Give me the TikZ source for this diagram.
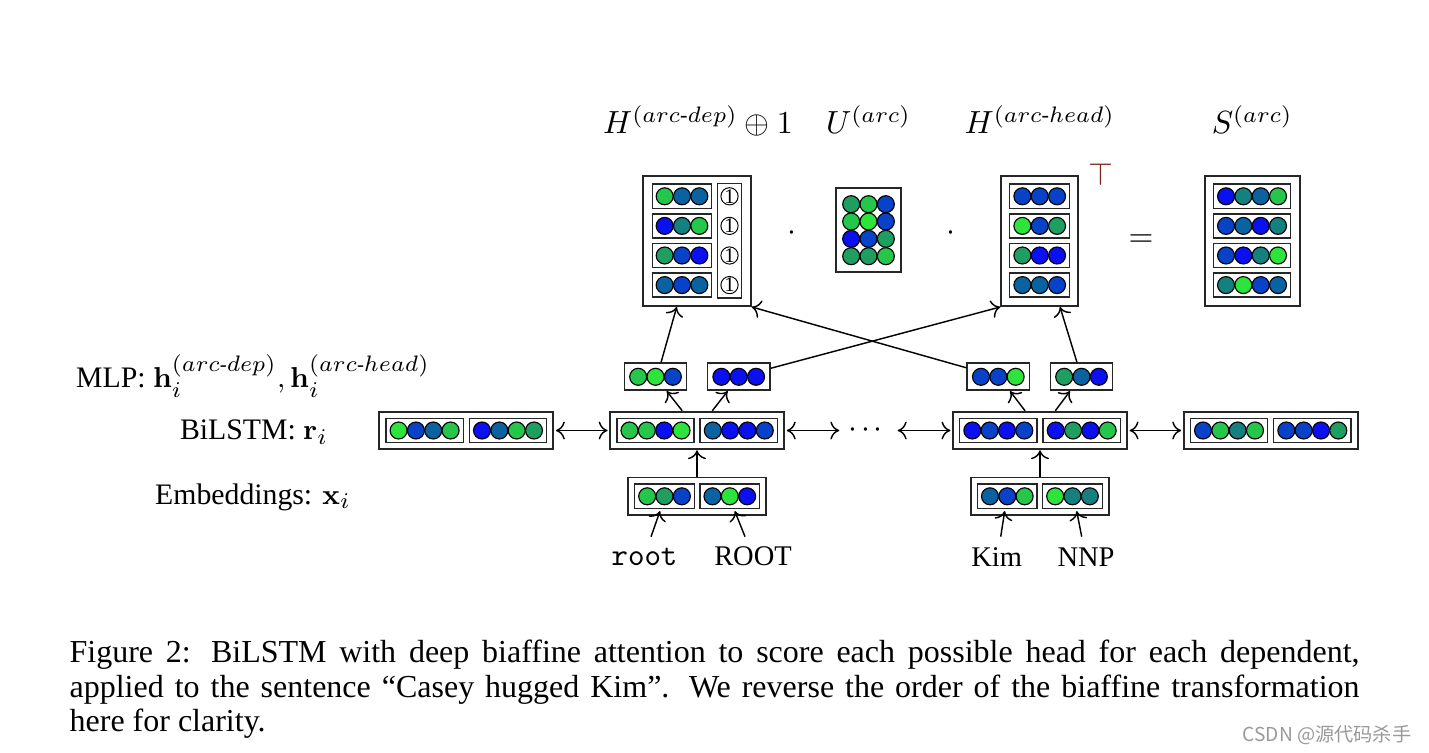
\documentclass[tikz,border=0pt]{standalone}
\usepackage{amsmath}
\usepackage[no-math]{fontspec}
\setmainfont{Liberation Serif}
\newfontfamily\cjkfont{Noto Sans CJK SC}
\usetikzlibrary{arrows.meta}
\definecolor{cL}{RGB}{45,228,58}
\definecolor{cG}{RGB}{38,198,74}
\definecolor{cS}{RGB}{30,158,96}
\definecolor{cT}{RGB}{20,128,128}
\definecolor{cP}{RGB}{10,98,160}
\definecolor{cD}{RGB}{8,66,200}
\definecolor{cB}{RGB}{10,16,240}
\definecolor{topred}{RGB}{125,40,25}
\def\U{0.3125pt}
\tikzset{
  outbox/.style={draw=black!85, line width=0.6pt, inner sep=0pt, minimum height=37.6*\U},
  inbox/.style={draw=black!85, line width=0.45pt, inner sep=0pt, minimum height=24.2*\U},
  mlpbox/.style={draw=black!85, line width=0.5pt, inner sep=0pt, minimum height=27*\U},
  circ/.style={draw=black, line width=0.35pt},
  arr/.style={draw=black, line width=0.45pt, -{To[length=2.8pt,width=5.6pt]}},
  darr/.style={draw=black, line width=0.45pt, {To[length=2.8pt,width=5.6pt]}-{To[length=2.8pt,width=5.6pt]}},
  lab/.style={inner sep=0pt, anchor=base, font=\fontsize{9.3}{11}\selectfont},
  toplab/.style={inner sep=0pt, anchor=base, font=\fontsize{10}{12}\selectfont},
  wordlab/.style={inner sep=0pt, anchor=base, font=\fontsize{8.9}{11}\selectfont},
  capline/.style={inner sep=0pt, anchor=base west, font=\fontsize{10}{11}\selectfont},
  onec/.style={circle, draw=black, line width=0.3pt, inner sep=0pt, minimum size=15*\U, font=\fontsize{6.5}{7}\selectfont}
}
% name, x, y, n, width(px), box style, colours
\newcommand\cvec[7]{%
  \node[#6, minimum width=#5*\U] (#1) at (#2,#3) {};
  \foreach \cc [count=\cI] in {#7} {
    \filldraw[circ, fill=\cc] ({#2+(\cI-(#4+1)/2)*17.33},#3) circle[radius=8.5*\U];
  }
}
\begin{document}
\begin{tikzpicture}[x=0.3125pt,y=-0.3125pt]
\useasboundingbox (0,0) rectangle (1429,753);

% ---------- top labels ----------
\node[toplab] (tHd) at (698,134) {$H^{(arc\text{-}dep)} \oplus 1$};
\node[toplab] (tU) at (868.5,134) {$U^{(arc)}$};
\node[toplab] (tHh) at (1039.8,134) {$H^{(arc\text{-}head)}$};
\node[toplab] (tS) at (1252.2,134) {$S^{(arc)}$};

% ---------- H (arc-dep) (+) 1 ----------
\node[outbox, minimum width=107.4*\U, minimum height=130*\U] (Hd) at (697,241) {};
\cvec{Hd1}{682}{196.3}{3}{59.4}{inbox}{cG,cP,cP}
\cvec{Hd2}{682}{225.9}{3}{59.4}{inbox}{cB,cT,cG}
\cvec{Hd3}{682}{255.5}{3}{59.4}{inbox}{cS,cD,cB}
\cvec{Hd4}{682}{285.1}{3}{59.4}{inbox}{cP,cD,cP}
\node[inbox, minimum width=24.4*\U, minimum height=114.4*\U] (Hdc) at (729.5,240.7) {};
\node[onec] (one1) at (729.5,196.3) {1};
\node[onec] (one2) at (729.5,225.9) {1};
\node[onec] (one3) at (729.5,255.5) {1};
\node[onec] (one4) at (729.5,285.1) {1};

\node[toplab] (dot1) at (792.3,241) {$\cdot$};

% ---------- U ----------
\node[outbox, minimum width=65.6*\U, minimum height=83.7*\U] (U) at (868.5,230.2) {};
\foreach \cc [count=\cI from 0] in {cS,cG,cD, cG,cL,cD, cB,cD,cS, cS,cS,cG} {
  \pgfmathsetmacro\cx{851.17+mod(\cI,3)*17.33}
  \pgfmathsetmacro\cy{204.2+floor(\cI/3)*17.33}
  \filldraw[circ, fill=\cc] (\cx,\cy) circle[radius=8.5*\U];
}

\node[toplab] (dot2) at (951,241) {$\cdot$};

% ---------- H (arc-head) ----------
\node[outbox, minimum width=77*\U, minimum height=130*\U] (Hh) at (1039.8,241) {};
\cvec{Hh1}{1039.7}{196.3}{3}{60}{inbox}{cD,cD,cD}
\cvec{Hh2}{1039.7}{225.9}{3}{60}{inbox}{cL,cD,cS}
\cvec{Hh3}{1039.7}{255.5}{3}{60}{inbox}{cS,cB,cB}
\cvec{Hh4}{1039.7}{285.1}{3}{60}{inbox}{cP,cP,cD}
\node[toplab, text=topred] (T) at (1101,185.7) {$\top$};

\node[toplab] (eq) at (1141,246.3) {$=$};

% ---------- S ----------
\node[outbox, minimum width=95*\U, minimum height=130*\U] (S) at (1252.2,241) {};
\cvec{S1}{1252}{196.3}{4}{77.4}{inbox}{cB,cT,cP,cG}
\cvec{S2}{1252}{225.9}{4}{77.4}{inbox}{cD,cP,cB,cT}
\cvec{S3}{1252}{255.5}{4}{77.4}{inbox}{cD,cB,cT,cL}
\cvec{S4}{1252}{285.1}{4}{77.4}{inbox}{cT,cL,cD,cP}

% ---------- left labels ----------
\node[lab] (lMLP) at (253,387.3) {MLP: $\mathbf{h}_i^{(arc\text{-}dep)}, \mathbf{h}_i^{(arc\text{-}head)}$};
\node[lab] (lBi) at (254,439.3) {BiLSTM: $\mathbf{r}_i$};
\node[lab] (lEm) at (253,504) {Embeddings: $\mathbf{x}_i$};

% ---------- MLP ----------
\cvec{m0d}{655.5}{376.8}{3}{62.3}{mlpbox}{cG,cL,cD}
\cvec{m0h}{738.7}{376.8}{3}{62.3}{mlpbox}{cB,cB,cB}
\cvec{m1d}{998.3}{376.8}{3}{62.3}{mlpbox}{cD,cD,cL}
\cvec{m1h}{1081.5}{376.8}{3}{62.3}{mlpbox}{cS,cP,cB}

% ---------- BiLSTM ----------
\node[outbox, minimum width=174*\U] (b0) at (466.3,430.5) {};
\cvec{b0a}{424.6}{430.5}{4}{77.3}{inbox}{cL,cD,cP,cG}
\cvec{b0b}{508}{430.5}{4}{77.3}{inbox}{cB,cP,cG,cS}
\node[outbox, minimum width=174*\U] (b1) at (697.2,430.5) {};
\cvec{b1a}{655.5}{430.5}{4}{77.3}{inbox}{cG,cG,cB,cL}
\cvec{b1b}{738.8}{430.5}{4}{77.3}{inbox}{cP,cB,cB,cD}
\node[outbox, minimum width=174*\U] (b2) at (1040,430.5) {};
\cvec{b2a}{998.3}{430.5}{4}{77.3}{inbox}{cB,cD,cB,cD}
\cvec{b2b}{1081.7}{430.5}{4}{77.3}{inbox}{cB,cS,cB,cG}
\node[outbox, minimum width=174*\U] (b3) at (1270.7,430.5) {};
\cvec{b3a}{1229}{430.5}{4}{77.3}{inbox}{cD,cG,cT,cG}
\cvec{b3b}{1312.3}{430.5}{4}{77.3}{inbox}{cD,cD,cB,cS}

\node[toplab] (dots) at (865.7,437.5) {${\cdot}\mkern2mu{\cdot}\mkern2mu{\cdot}$};
\coordinate (dL) at (839.3,430.5);
\coordinate (dR) at (897.7,430.5);

% ---------- Embeddings ----------
\node[outbox, minimum width=138.6*\U] (e0) at (697,496.3) {};
\cvec{e0a}{664.5}{496.3}{3}{59.6}{inbox}{cG,cS,cD}
\cvec{e0b}{729.8}{496.3}{3}{59.6}{inbox}{cP,cL,cB}
\node[outbox, minimum width=138.6*\U] (e1) at (1040,496.3) {};
\cvec{e1a}{1007.3}{496.3}{3}{59.6}{inbox}{cP,cD,cG}
\cvec{e1b}{1072.5}{496.3}{3}{59.6}{inbox}{cL,cT,cT}

% ---------- words ----------
\node[wordlab] (w0) at (644.5,565) {\fontsize{9.8}{11}\selectfont\ttfamily root};
\node[wordlab] (w1) at (753,565) {ROOT};
\node[wordlab] (w2) at (996.7,566) {Kim};
\node[wordlab] (w3) at (1086,566) {NNP};

% ---------- connectors ----------
\draw[darr, shorten <=0.5pt, shorten >=0.5pt] (b0.east) -- (b1.west);
\draw[darr, shorten <=0.5pt] (b1.east) -- (dL);
\draw[darr, shorten >=0.5pt] (dR) -- (b2.west);
\draw[darr, shorten <=0.5pt, shorten >=0.5pt] (b2.east) -- (b3.west);

\draw[arr] (e0.north) -- (e0.north |- b1.south);
\draw[arr] (e1.north) -- (e1.north |- b2.south);

\draw[arr] ([xshift=-15*\U]b1.north) -- ([xshift=11.2*\U]m0d.south);
\draw[arr] ([xshift=15.1*\U]b1.north) -- ([xshift=-11*\U]m0h.south);
\draw[arr] ([xshift=-15*\U]b2.north) -- ([xshift=11.7*\U]m1d.south);
\draw[arr] ([xshift=15.3*\U]b2.north) -- ([xshift=-11.5*\U]m1h.south);

\draw[arr] ([xshift=5.5*\U]m0d.north) -- ([xshift=-20.3*\U]Hd.south);
\draw[arr] ([yshift=8.5*\U]m0h.east) -- (Hh.south west);
\draw[arr] ([yshift=9*\U]m1d.west) -- (Hd.south east);
\draw[arr] ([xshift=-4.5*\U]m1h.north) -- ([xshift=20.2*\U]Hh.south);

\draw[arr] ([shift={(6.5,-28.3)}]w0.base) -- ([shift={(-4.5,2)}]e0a.south);
\draw[arr] ([shift={(-8,-28.3)}]w1.base) -- ([shift={(5,2)}]e0b.south);
\draw[arr] ([shift={(4,-29.3)}]w2.base) -- ([shift={(-2.6,2)}]e1a.south);
\draw[arr] ([shift={(-4.3,-29.3)}]w3.base) -- ([shift={(4.2,2)}]e1b.south);

% ---------- caption ----------
\node[capline] (cap1) at (69,662) {\makebox[403.1pt][s]{Figure 2: BiLSTM with deep biaffine attention to score each possible head for each dependent,}};
\node[capline] (cap2) at (69,697) {\makebox[403.1pt][s]{applied to the sentence ``Casey hugged Kim''. We reverse the order of the biaffine transformation}};
\node[capline] (cap3) at (69,731) {here for clarity.};

% ---------- watermark ----------
\node[inner sep=0pt, anchor=base west, text=black!40, font=\cjkfont\fontsize{6}{7}\selectfont] (wm) at (1242,741) {CSDN @源代码杀手};
\end{tikzpicture}
\end{document}
